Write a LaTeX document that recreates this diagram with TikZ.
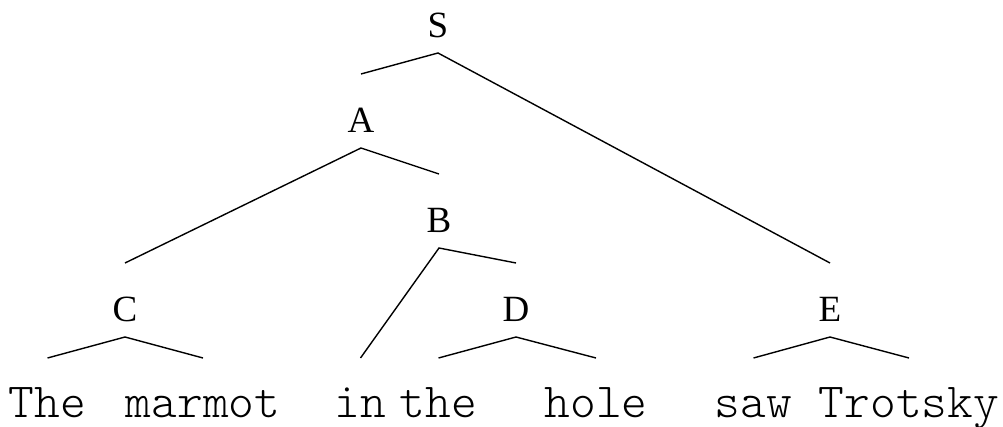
\documentclass[tikz,border=0pt]{standalone}
\usepackage{fontspec}
\setmainfont{Liberation Serif}
\newfontfamily\lightmono{Latin Modern Mono Light}
\begin{document}
\begin{tikzpicture}[x=1pt,y=-1pt,
  every node/.style={inner sep=0pt,outer sep=0pt,anchor=base,text height=59pt,text depth=15pt},
  cat/.style={font=\fontsize{37}{40}\selectfont},
  word/.style={font=\lightmono\fontsize{49}{52}\selectfont},
  edge/.style={line width=1.4pt,black}]
\useasboundingbox[fill=white] (0,0) rectangle (1003,427);
% categories
\node[cat] (S) at (438,38) {S};
\node[cat] (A) at (361,133) {A};
\node[cat] (B) at (439,233) {B};
\node[cat] (C) at (125,322) {C};
\node[cat] (D) at (516,322) {D};
\node[cat] (E) at (830,322) {E};
% words
\node[word] (w1) at (47.5,417) {The};
\node[word] (w2) at (203,417) {marmot};
\node[word] (w3) at (360.5,417) {in};
\node[word] (w4) at (438.5,417) {the};
\node[word] (w5) at (596,417) {hole};
\node[word] (w6) at (753.5,417) {saw};
\node[word] (w7) at (909,417) {Trotsky};
% edges
\draw[edge] (A.north) -- (S.south) -- (E.north);
\draw[edge] (C.north) -- (A.south) -- (B.north);
\draw[edge] (w3.north) -- (B.south) -- (D.north);
\draw[edge] (w1.north) -- (C.south) -- (w2.north);
\draw[edge] (w4.north) -- (D.south) -- (w5.north);
\draw[edge] (w6.north) -- (E.south) -- (w7.north);
\end{tikzpicture}
\end{document}
